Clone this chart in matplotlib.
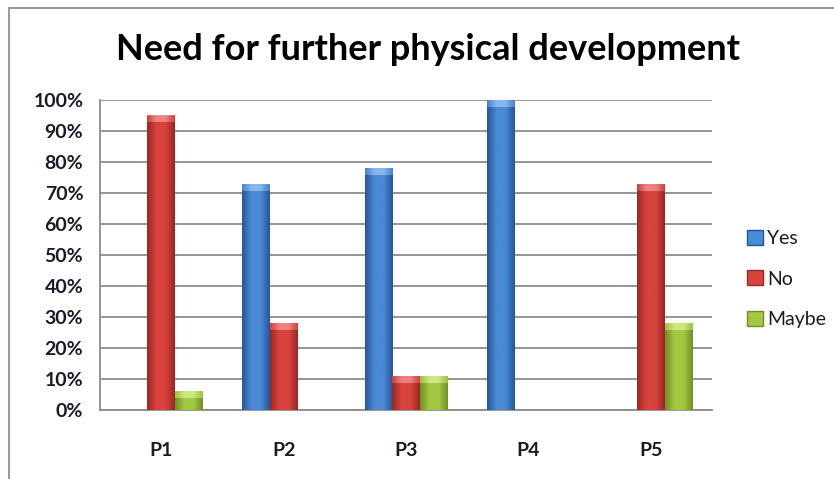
import numpy as np
import matplotlib.pyplot as plt
from matplotlib.colors import LinearSegmentedColormap
from matplotlib.lines import Line2D

# Donnees (en %)
categories = ['P1', 'P2', 'P3', 'P4', 'P5']
series = ['Yes', 'No', 'Maybe']
yes = [0, 73, 78, 100, 0]
no = [95, 28, 11, 0, 73]
maybe = [6, 0, 11, 0, 28]
yticks = [0, 10, 20, 30, 40, 50, 60, 70, 80, 90, 100]

# couleurs : (bord sombre, centre clair, chapeau)
couleurs = {
    'Yes': ('#25569a', '#4a8ad6', '#8fbcee'),
    'No': ('#9a2624', '#d9433e', '#f08a86'),
    'Maybe': ('#6f8f25', '#a3c944', '#d2ea86'),
}

plt.rcParams['font.family'] = ['Lato', 'DejaVu Sans']

fig = plt.figure(figsize=(8.34, 4.79), dpi=100)
fig.patch.set_facecolor('white')

# cadre gris du graphique (gauche et haut seulement, l'image est rognee)
fig.add_artist(Line2D([9/834, 9/834], [0, 1 - 7.5/479], color='#9a9a9a', lw=1.5, transform=fig.transFigure))
fig.add_artist(Line2D([9/834, 1], [1 - 7.5/479, 1 - 7.5/479], color='#9a9a9a', lw=1.5, transform=fig.transFigure))

ax = fig.add_axes([100/834, 1 - 410/479, 612/834, 310/479])

x = np.arange(len(categories))
w = 0.225
donnees = {'Yes': yes, 'No': no, 'Maybe': maybe}

def degrade(ax, barres, c_bord, c_centre, c_haut):
    cmap = LinearSegmentedColormap.from_list('g', [c_bord, c_centre, c_centre, c_bord], N=256)
    grad = np.linspace(0, 1, 64).reshape(1, -1)
    cmap_cap = LinearSegmentedColormap.from_list('c', [c_centre, c_haut, c_haut, c_centre], N=256)
    for b in barres:
        h = b.get_height()
        if h <= 0:
            continue
        x0, y0 = b.get_x(), b.get_y()
        bw = b.get_width()
        im = ax.imshow(grad, cmap=cmap, aspect='auto', extent=[x0, x0 + bw, y0, y0 + h],
                       zorder=3, interpolation='bicubic')
        im.set_clip_path(b)
        # petit chapeau clair en haut de la barre
        cap = min(2.2, h * 0.4)
        ax.imshow(grad, cmap=cmap_cap, aspect='auto', extent=[x0, x0 + bw, y0 + h - cap, y0 + h],
                  zorder=4, interpolation='bicubic', alpha=0.9)

for i, s in enumerate(series):
    c_bord, c_centre, c_haut = couleurs[s]
    vals = donnees[s]
    barres = ax.bar(x + (i - 1) * w, vals, w, color=c_centre, zorder=3, lw=0, label=s)
    degrade(ax, barres, c_bord, c_centre, c_haut)

ax.set_xlim(-0.5, len(categories) - 0.5)
ax.set_ylim(0, 100)
ax.set_yticks(yticks)
ax.set_yticklabels([f'{v}%' for v in yticks])
ax.set_xticks(x)
ax.set_xticklabels(categories)
ax.tick_params(length=0, labelsize=14, colors='#1a1a2a')
ax.tick_params(axis='y', pad=12)
ax.tick_params(axis='x', pad=23)
for lab in ax.get_xticklabels() + ax.get_yticklabels():
    lab.set_fontweight('bold')

ax.grid(axis='y', color='#8c8c8c', lw=1.3, zorder=1)
for sp in ['top', 'right']:
    ax.spines[sp].set_visible(False)
ax.spines['left'].set_color('#8c8c8c')
ax.spines['bottom'].set_color('#8c8c8c')
ax.spines['left'].set_linewidth(1.3)
ax.spines['bottom'].set_linewidth(1.3)

fig.text(428/834, 1 - 50/479, 'Need for further physical development', ha='center', va='center',
         fontsize=26, fontweight='bold', color='black')

poignees = [plt.Rectangle((0, 0), 1, 1, facecolor=couleurs[s][1], edgecolor=couleurs[s][0], lw=1.0) for s in series]
fig.legend(poignees, series, loc='center left', bbox_to_anchor=(729/834, 1 - 279/479), frameon=False,
           fontsize=14, handlelength=0.85, handleheight=0.8, handletextpad=0.2, labelspacing=1.2,
           labelcolor='#1a1a2a')

fig.savefig('out.png', dpi=100)
